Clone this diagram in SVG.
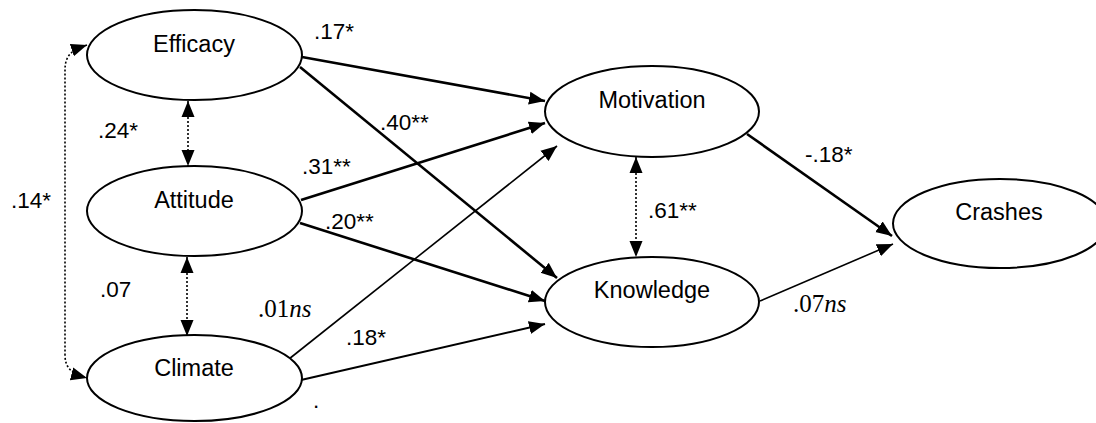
<svg xmlns="http://www.w3.org/2000/svg" width="1096" height="423" viewBox="0 0 1096 423">
<defs>
<marker id="ah" markerUnits="userSpaceOnUse" markerWidth="17" markerHeight="14" refX="16" refY="7" orient="auto-start-reverse" viewBox="0 0 17 14">
<path d="M0,0.5 L16,7 L0,13.5 z" fill="#000"/>
</marker>
<style>
.node ellipse{fill:#fff;stroke:#000;stroke-width:2}
.node text{font-family:"Liberation Sans",Arial,sans-serif;font-size:23.5px;text-anchor:middle;fill:#000}
.lbl{font-family:"Liberation Sans",Arial,sans-serif;font-size:22.5px;fill:#000}
.slbl{font-family:"Liberation Serif","Times New Roman",serif;font-size:25px;fill:#000}
.thick{stroke:#000;stroke-width:2.6;fill:none;marker-end:url(#ah)}
.thin{stroke:#000;stroke-width:1.6;fill:none;marker-end:url(#ah)}
.mid{stroke:#000;stroke-width:2.1;fill:none;marker-end:url(#ah)}
.dot{stroke:#000;stroke-width:1.6;stroke-dasharray:2,2;fill:none;marker-start:url(#ah);marker-end:url(#ah)}
</style>
</defs>
<rect width="1096" height="423" fill="#fff"/>
<g id="connectors">
<path class="thick" d="M302,57 L545,101"/>
<path class="thick" d="M300,67 L557,278"/>
<path class="thick" d="M301,200 L545,123"/>
<path class="thick" d="M300,223 L545,301"/>
<path class="thin" d="M289,359 L557,146"/>
<path class="mid" d="M301,380 L545,324"/>
<path class="thick" d="M747,134 L892,236"/>
<path class="thin" d="M760,301 L893,244"/>
<path class="dot" d="M188,101 L188,166"/>
<path class="dot" d="M187,257 L187,336"/>
<path class="dot" d="M636,157 L636,257"/>
<path class="dot" d="M87,45 C72,50 65,55 65,70 L65,355 C65,368 72,374 87,378"/>
</g>
<g id="efficacy" class="node"><ellipse cx="194.5" cy="55" rx="107.5" ry="45"/><text x="194" y="52">Efficacy</text></g>
<g id="attitude" class="node"><ellipse cx="194.5" cy="211" rx="107.5" ry="45"/><text x="194" y="208">Attitude</text></g>
<g id="climate" class="node"><ellipse cx="194.5" cy="378" rx="107.5" ry="43"/><text x="194" y="376">Climate</text></g>
<g id="motivation" class="node"><ellipse cx="652" cy="111.5" rx="107" ry="45.5"/><text x="652" y="108">Motivation</text></g>
<g id="knowledge" class="node"><ellipse cx="652" cy="302" rx="107" ry="45"/><text x="652" y="298">Knowledge</text></g>
<g id="crashes" class="node"><ellipse cx="1000" cy="223.5" rx="107" ry="44.5"/><text x="999" y="220">Crashes</text></g>
<g id="labels">
<text class="lbl" x="314" y="39">.17*</text>
<text class="lbl" x="380" y="130">.40**</text>
<text class="lbl" x="302" y="174">.31**</text>
<text class="lbl" x="325" y="229">.20**</text>
<text class="lbl" x="98" y="138">.24*</text>
<text class="lbl" x="11" y="208">.14*</text>
<text class="lbl" x="100" y="297">.07</text>
<text class="slbl" x="258" y="317">.01<tspan font-style="italic">ns</tspan></text>
<text class="lbl" x="346" y="345">.18*</text>
<text class="lbl" x="648" y="218">.61**</text>
<text class="lbl" x="805" y="162">-.18*</text>
<text class="slbl" x="793" y="312">.07<tspan font-style="italic">ns</tspan></text>
<text class="lbl" x="313" y="408">.</text>
</g>
</svg>
